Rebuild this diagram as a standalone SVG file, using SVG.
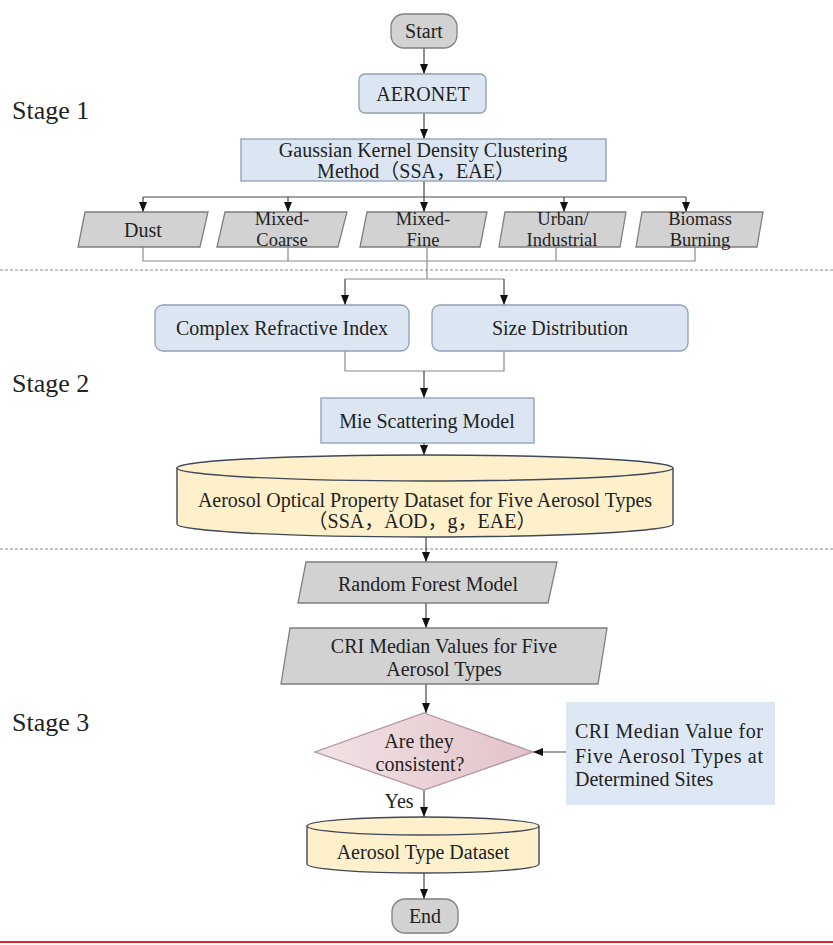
<svg xmlns="http://www.w3.org/2000/svg" width="833" height="945" viewBox="0 0 833 945">
<defs>
<marker id="arr" viewBox="0 0 10 8" refX="10" refY="4" markerWidth="10" markerHeight="8" markerUnits="userSpaceOnUse" orient="auto"><path d="M0,0 L10,4 L0,8 z" fill="#111"/></marker>
<linearGradient id="pink" x1="0" y1="0" x2="1" y2="0"><stop offset="0" stop-color="#f2e2e5"/><stop offset="1" stop-color="#e2c3c9"/></linearGradient>
</defs>
<style>
text{font-size:20px;fill:#222;text-anchor:middle;dominant-baseline:central}
.stage{font-size:26px;text-anchor:start}
.sm{font-size:18.5px}
.gray{fill:#d2d2d2;stroke:#7f7f7f;stroke-width:1.3}
.blue{fill:#dce6f2;stroke:#8f9fb3;stroke-width:1.3}
.cyl{fill:#fdf0cb;stroke:#3f4858;stroke-width:1.4}
.ln{fill:none;stroke:#444;stroke-width:1.2}
.mg{fill:none;stroke:#8a8a8a;stroke-width:1.2}
.a{marker-end:url(#arr)}
.dash{stroke:#8a8a8a;stroke-width:1;stroke-dasharray:3,2}
</style>
<rect width="833" height="945" fill="#fff"/>
<g font-family="Liberation Serif, Noto Sans CJK SC, serif">
<g id="stages">
<text class="stage" x="12" y="110">Stage 1</text>
<text class="stage" x="12" y="383">Stage 2</text>
<text class="stage" x="12" y="722">Stage 3</text>
</g>
<g id="separators">
<line class="dash" x1="0" y1="270" x2="833" y2="270"/>
<line class="dash" x1="0" y1="549" x2="833" y2="549"/>
<line x1="0" y1="942" x2="833" y2="942" stroke="#e0262b" stroke-width="2"/>
</g>

<g id="connectors">
<line class="ln a" x1="424" y1="48" x2="424" y2="74"/>
<line class="ln a" x1="424" y1="113" x2="424" y2="139"/>
<line class="ln" x1="424" y1="181" x2="424" y2="197"/>
<line class="ln" x1="143" y1="197" x2="686" y2="197"/>
<line class="ln a" x1="143" y1="197" x2="143" y2="212"/>
<line class="ln a" x1="288" y1="197" x2="288" y2="212"/>
<line class="ln a" x1="424" y1="197" x2="424" y2="212"/>
<line class="ln a" x1="564" y1="197" x2="564" y2="212"/>
<line class="ln a" x1="686" y1="197" x2="686" y2="212"/>
<polyline class="mg" points="143,247 143,261 695,261 695,247"/>
<line class="mg" x1="288" y1="247" x2="288" y2="261"/>
<line class="mg" x1="556" y1="247" x2="556" y2="261"/>
<line class="mg" x1="427" y1="247" x2="427" y2="279"/>
<line class="mg" x1="345" y1="279" x2="504" y2="279"/>
<line class="ln a" x1="345" y1="279" x2="345" y2="305"/>
<line class="ln a" x1="504" y1="279" x2="504" y2="305"/>
<polyline class="mg" points="345,351 345,371 504,371 504,351"/>
<line class="ln a" x1="424" y1="371" x2="424" y2="398"/>
<line class="ln a" x1="424" y1="443" x2="424" y2="455"/>
<line class="ln a" x1="426" y1="537" x2="426" y2="562"/>
<line class="ln a" x1="426" y1="603" x2="426" y2="628"/>
<line class="ln a" x1="426" y1="684" x2="426" y2="713"/>
<line class="ln a" x1="566" y1="752" x2="533" y2="752"/>
<line class="ln a" x1="424" y1="790" x2="424" y2="817"/>
<line class="ln a" x1="424" y1="873" x2="424" y2="899"/>
<text x="399" y="801">Yes</text>
</g>

<g id="start"><rect class="gray" x="391" y="14" width="66" height="34" rx="13"/><text x="424" y="31">Start</text></g>
<g id="aeronet"><rect class="blue" x="359" y="74" width="127" height="39" rx="6"/><text x="423" y="94">AERONET</text></g>
<g id="gaussian"><rect class="blue" x="241" y="139" width="365" height="42"/><text x="423" y="150">Gaussian Kernel Density Clustering</text><text x="416" y="171">Method（SSA，EAE）</text></g>

<g id="dust"><polygon class="gray" points="85,212 208,212 200,247 78,247"/><text x="143" y="230">Dust</text></g>
<g id="mixed-coarse"><polygon class="gray" points="225,212 347,212 338,247 217,247"/><text class="sm" x="282" y="219">Mixed-</text><text class="sm" x="282" y="240">Coarse</text></g>
<g id="mixed-fine"><polygon class="gray" points="367,212 487,212 480,247 360,247"/><text class="sm" x="423" y="219">Mixed-</text><text class="sm" x="423" y="240">Fine</text></g>
<g id="urban"><polygon class="gray" points="505,212 626,212 620,247 499,247"/><text class="sm" x="563" y="219">Urban/</text><text class="sm" x="562" y="240">Industrial</text></g>
<g id="biomass"><polygon class="gray" points="642,212 763,212 757,247 636,247"/><text class="sm" x="700" y="219">Biomass</text><text class="sm" x="700" y="240">Burning</text></g>

<g id="cri"><rect class="blue" x="155" y="305" width="254" height="46" rx="8"/><text x="282" y="328">Complex Refractive Index</text></g>
<g id="size"><rect class="blue" x="432" y="305" width="256" height="46" rx="8"/><text x="560" y="328">Size Distribution</text></g>
<g id="mie"><rect class="blue" x="321" y="398" width="213" height="45"/><text x="427" y="421">Mie Scattering Model</text></g>

<g id="optical-dataset">
<path class="cyl" d="M177,468 L177,524 A248,13 0 0 0 673,524 L673,468"/>
<ellipse class="cyl" cx="425" cy="468" rx="248" ry="13"/>
<text x="425" y="500">Aerosol Optical Property Dataset for Five Aerosol Types</text>
<text x="422" y="521">（SSA，AOD，g，EAE）</text>
</g>

<g id="random-forest"><polygon class="gray" points="306,562 557,562 548,603 298,603"/><text x="428" y="584">Random Forest Model</text></g>
<g id="cri-median"><polygon class="gray" points="290,628 607,628 598,684 281,684"/><text x="444" y="646">CRI Median Values for Five</text><text x="444" y="669">Aerosol Types</text></g>

<g id="consistent"><polygon points="424,713 533,752 424,790 315,752" fill="url(#pink)" stroke="#b4959c" stroke-width="1.3"/><text x="419" y="741">Are they</text><text x="420" y="764">consistent?</text></g>

<g id="determined-sites"><rect x="566" y="702" width="209" height="103" fill="#dde8f4"/>
<text x="575" y="731" style="text-anchor:start" textLength="188" lengthAdjust="spacing">CRI Median Value for</text>
<text x="575" y="756" style="text-anchor:start" textLength="188" lengthAdjust="spacing">Five Aerosol Types at</text>
<text x="575" y="779" style="text-anchor:start">Determined Sites</text>
</g>

<g id="type-dataset">
<path class="cyl" d="M307,826 L307,864 A116,9 0 0 0 539,864 L539,826"/>
<ellipse class="cyl" cx="423" cy="826" rx="116" ry="9"/>
<text x="423" y="852">Aerosol Type Dataset</text>
</g>

<g id="end"><rect class="gray" x="392" y="899" width="66" height="34" rx="13"/><text x="425" y="916">End</text></g>
</g>
</svg>
